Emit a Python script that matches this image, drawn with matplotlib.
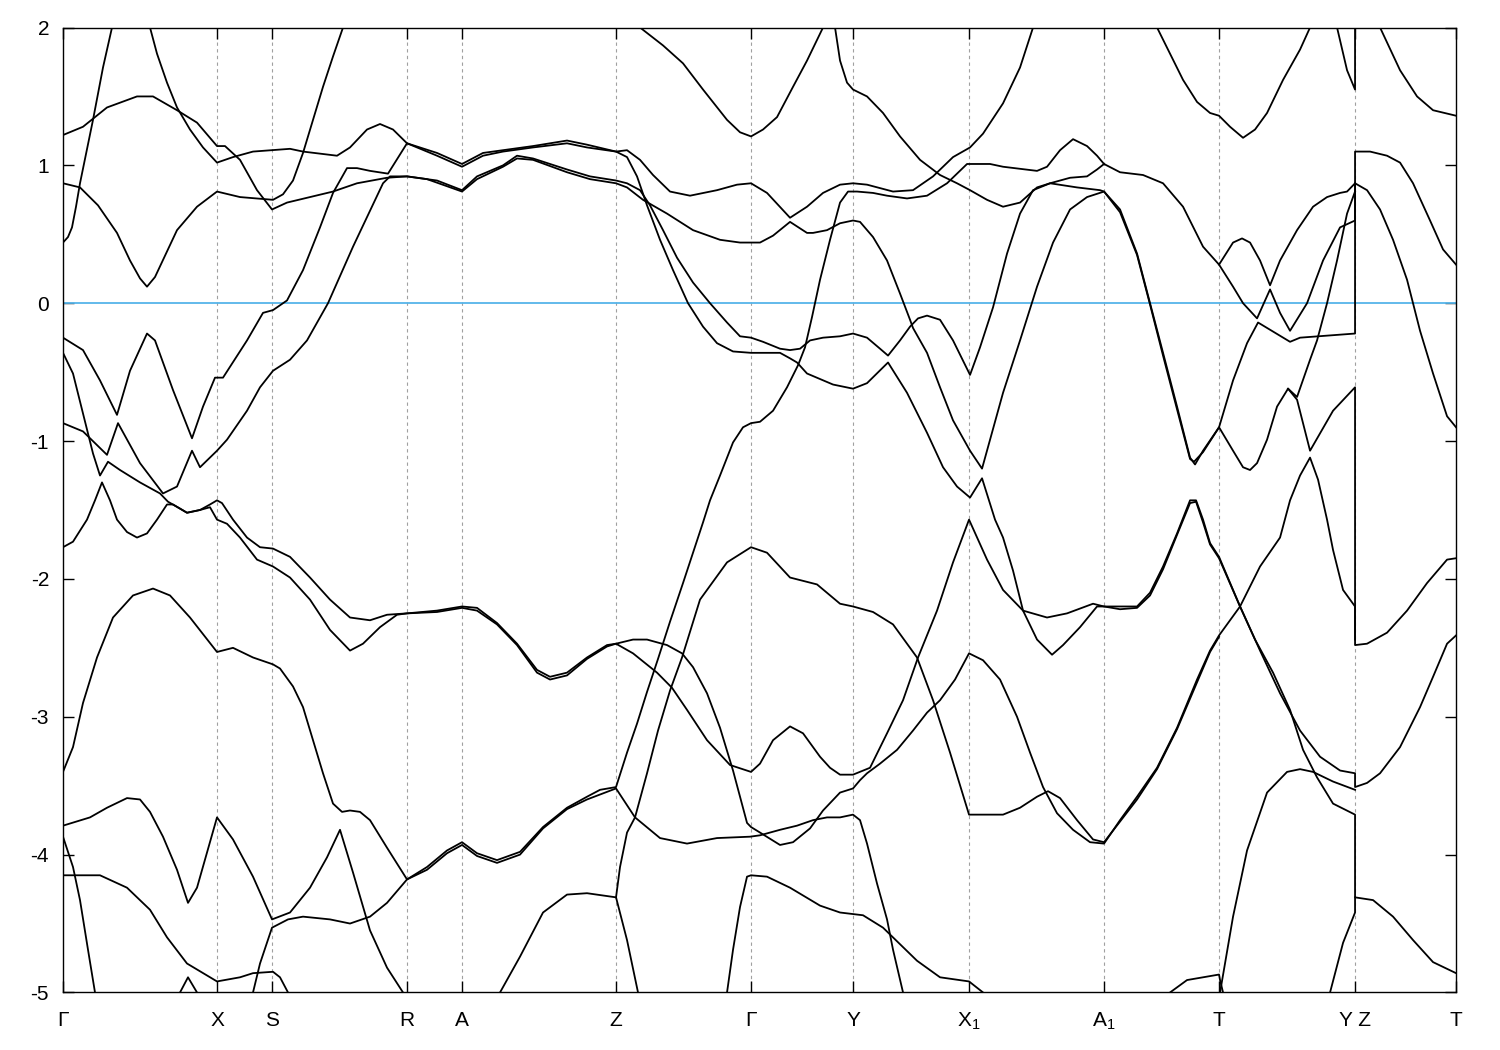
import matplotlib
matplotlib.use("Agg")
import matplotlib.pyplot as plt

plt.rcParams['font.family'] = ['Liberation Sans', 'DejaVu Sans']
plt.rcParams['mathtext.fontset'] = 'custom'
plt.rcParams['mathtext.rm'] = 'Liberation Sans'

# high symmetry points along the k-path
kpoints = [0.0, 1.54, 2.09, 3.44, 3.99, 5.53, 6.88, 7.90, 9.06, 10.41, 11.56, 12.92, 13.93]
klabels = ['Γ', 'X', 'S', 'R', 'A', 'Z', 'Γ', 'Y', r'$\mathrm{X}_1$', r'$\mathrm{A}_1$', 'T', 'Y Z', 'T']
yticks = [2, 1, 0, -1, -2, -3, -4, -5]

# band strands (k, E in eV)
band01 = [(0.00, 0.44), (0.05, 0.48), (0.09, 0.55), (0.13, 0.70), (0.17, 0.87), (0.30, 1.33), (0.40, 1.71),
          (0.49, 2.00), (0.52, 2.09)]
band02 = [(0.00, 0.87), (0.17, 0.84), (0.35, 0.71), (0.54, 0.51), (0.67, 0.31), (0.77, 0.18), (0.84, 0.12),
          (0.92, 0.19), (1.14, 0.53), (1.34, 0.70), (1.54, 0.81), (1.77, 0.77), (2.10, 0.75), (2.20, 0.79),
          (2.30, 0.89), (2.40, 1.09), (2.50, 1.33), (2.60, 1.57), (2.70, 1.79), (2.80, 2.00), (2.83, 2.09)]
band03 = [(0.00, 1.22), (0.20, 1.28), (0.44, 1.42), (0.74, 1.50), (0.90, 1.50), (1.14, 1.40), (1.34, 1.31),
          (1.54, 1.14), (1.62, 1.14), (1.77, 1.04), (1.94, 0.82), (2.09, 0.68), (2.24, 0.73), (2.70, 0.81),
          (2.94, 0.87), (3.24, 0.91), (3.44, 0.92), (3.64, 0.90), (3.99, 0.81), (4.14, 0.90), (4.40, 0.99),
          (4.54, 1.05), (4.70, 1.04), (5.04, 0.95), (5.27, 0.90), (5.53, 0.87), (5.64, 0.84), (5.80, 0.75),
          (6.04, 0.65), (6.30, 0.53), (6.57, 0.46), (6.77, 0.44), (6.88, 0.44), (6.97, 0.44), (7.10, 0.49),
          (7.27, 0.59), (7.44, 0.51), (7.50, 0.51), (7.64, 0.53), (7.77, 0.58), (7.90, 0.60), (7.97, 0.59),
          (8.10, 0.48), (8.24, 0.31), (8.37, 0.07), (8.47, -0.12), (8.50, -0.18), (8.64, -0.36), (8.77, -0.61),
          (8.90, -0.85), (9.07, -1.07), (9.19, -1.20), (9.40, -0.65), (9.57, -0.27), (9.74, 0.12), (9.90, 0.44),
          (10.07, 0.68), (10.24, 0.77), (10.41, 0.81), (10.57, 0.68), (10.74, 0.36), (10.87, 0.00),
          (11.00, -0.36), (11.14, -0.75), (11.27, -1.12), (11.32, -1.17), (11.40, -1.07), (11.56, -0.90),
          (11.70, -1.07), (11.80, -1.19), (11.87, -1.21), (11.94, -1.16), (12.04, -0.99), (12.14, -0.75),
          (12.25, -0.62), (12.34, -0.70), (12.47, -1.07), (12.70, -0.78), (12.92, -0.61), (12.92, -2.48),
          (13.04, -2.47), (13.24, -2.39), (13.44, -2.23), (13.64, -2.03), (13.84, -1.86), (13.93, -1.85)]
band04 = [(0.84, 2.09), (0.87, 2.00), (0.94, 1.81), (1.04, 1.60), (1.14, 1.42), (1.27, 1.26), (1.40, 1.13),
          (1.54, 1.02), (1.70, 1.06), (1.90, 1.10), (2.27, 1.12), (2.40, 1.10), (2.74, 1.07), (2.87, 1.13),
          (3.04, 1.26), (3.17, 1.30), (3.30, 1.26), (3.44, 1.16), (3.74, 1.09), (3.99, 1.01), (4.20, 1.09),
          (4.40, 1.11), (4.70, 1.14), (5.04, 1.18), (5.24, 1.15), (5.53, 1.10), (5.64, 1.11), (5.77, 1.04),
          (5.90, 0.93), (6.07, 0.81), (6.27, 0.78), (6.54, 0.82), (6.74, 0.86), (6.88, 0.87), (7.04, 0.80),
          (7.27, 0.62), (7.44, 0.70), (7.60, 0.80), (7.77, 0.86), (7.90, 0.87), (8.04, 0.86), (8.30, 0.81),
          (8.50, 0.82), (8.70, 0.92), (8.90, 1.06), (9.07, 1.13), (9.20, 1.23), (9.40, 1.45), (9.57, 1.71),
          (9.70, 2.00), (9.74, 2.09)]
band05 = [(0.00, -0.25), (0.20, -0.34), (0.37, -0.56), (0.54, -0.81), (0.67, -0.49), (0.84, -0.22),
          (0.92, -0.27), (1.10, -0.63), (1.29, -0.98), (1.40, -0.75), (1.52, -0.54), (1.60, -0.54),
          (1.84, -0.27), (2.00, -0.07), (2.10, -0.05), (2.24, 0.02), (2.40, 0.24), (2.57, 0.55), (2.70, 0.80),
          (2.84, 0.98), (2.94, 0.98), (3.07, 0.96), (3.25, 0.94), (3.44, 1.16), (3.74, 1.07), (3.99, 0.99),
          (4.20, 1.07), (4.40, 1.10), (4.70, 1.13), (5.04, 1.16), (5.24, 1.13), (5.53, 1.10), (5.64, 1.06),
          (5.74, 0.92), (5.84, 0.71), (5.97, 0.46), (6.10, 0.24), (6.25, 0.00), (6.40, -0.17), (6.54, -0.29),
          (6.70, -0.35), (6.88, -0.36), (7.17, -0.36), (7.27, -0.40), (7.34, -0.43), (7.44, -0.51),
          (7.70, -0.59), (7.90, -0.62), (8.04, -0.58), (8.25, -0.43), (8.44, -0.65), (8.64, -0.94),
          (8.80, -1.19), (8.94, -1.33), (9.07, -1.41), (9.19, -1.27), (9.32, -1.57), (9.40, -1.70),
          (9.50, -1.94), (9.60, -2.23), (9.74, -2.44), (9.89, -2.55), (10.00, -2.48), (10.17, -2.35),
          (10.34, -2.20), (10.41, -2.20), (10.57, -2.20), (10.74, -2.20), (10.87, -2.10), (11.00, -1.91),
          (11.14, -1.67), (11.27, -1.43), (11.33, -1.43), (11.40, -1.57), (11.47, -1.74), (11.56, -1.84),
          (11.77, -2.20), (11.97, -2.52), (12.17, -2.83), (12.37, -3.10), (12.57, -3.29), (12.77, -3.39),
          (12.92, -3.41), (12.92, -3.51), (13.04, -3.48), (13.17, -3.41), (13.37, -3.22), (13.57, -2.93),
          (13.70, -2.71), (13.84, -2.47), (13.93, -2.41)]
band06 = [(0.00, -0.87), (0.20, -0.93), (0.44, -1.10), (0.55, -0.87), (0.77, -1.16), (1.00, -1.38),
          (1.14, -1.33), (1.29, -1.07), (1.37, -1.19), (1.54, -1.07), (1.64, -0.99), (1.84, -0.78),
          (1.97, -0.61), (2.10, -0.49), (2.27, -0.41), (2.44, -0.27), (2.65, 0.00), (2.90, 0.41), (3.20, 0.87),
          (3.27, 0.92), (3.44, 0.92), (3.74, 0.89), (3.99, 0.82), (4.14, 0.92), (4.40, 1.00), (4.54, 1.07),
          (4.70, 1.05), (5.04, 0.97), (5.27, 0.92), (5.53, 0.89), (5.64, 0.87), (5.77, 0.82), (5.87, 0.71),
          (6.00, 0.53), (6.14, 0.33), (6.30, 0.15), (6.47, 0.00), (6.64, -0.14), (6.77, -0.24), (6.88, -0.25),
          (7.00, -0.28), (7.17, -0.33), (7.27, -0.34), (7.37, -0.33), (7.47, -0.27), (7.60, -0.25),
          (7.77, -0.24), (7.90, -0.22), (8.04, -0.25), (8.17, -0.33), (8.25, -0.38), (8.37, -0.27),
          (8.47, -0.17), (8.55, -0.11), (8.64, -0.09), (8.77, -0.12), (8.90, -0.27), (9.07, -0.52),
          (9.17, -0.32), (9.30, -0.03), (9.44, 0.36), (9.57, 0.65), (9.70, 0.82), (9.87, 0.87), (10.07, 0.91),
          (10.24, 0.92), (10.34, 0.97), (10.41, 1.01), (10.57, 0.95), (10.80, 0.93), (11.00, 0.87),
          (11.20, 0.70), (11.40, 0.41), (11.56, 0.28), (11.70, 0.12), (11.80, 0.00), (11.94, -0.11),
          (12.07, 0.10), (12.17, -0.07), (12.27, -0.20), (12.44, 0.00), (12.60, 0.31), (12.77, 0.55),
          (12.92, 0.60), (12.92, 0.87), (13.04, 0.82), (13.17, 0.68), (13.30, 0.46), (13.44, 0.17),
          (13.57, -0.20), (13.70, -0.51), (13.84, -0.82), (13.93, -0.90)]
band07 = [(1.90, -5.00), (1.97, -4.79), (2.09, -4.53), (2.25, -4.47), (2.40, -4.45), (2.67, -4.47),
          (2.87, -4.50), (3.07, -4.45), (3.24, -4.35), (3.44, -4.18), (3.64, -4.09), (3.84, -3.97),
          (3.99, -3.91), (4.14, -3.99), (4.34, -4.04), (4.57, -3.98), (4.80, -3.80), (5.04, -3.66),
          (5.24, -3.58), (5.37, -3.53), (5.53, -3.51), (5.64, -3.26), (5.74, -3.05), (5.84, -2.82),
          (5.95, -2.58), (6.07, -2.31), (6.20, -2.03), (6.30, -1.81), (6.40, -1.59), (6.47, -1.43),
          (6.57, -1.25), (6.70, -1.01), (6.80, -0.90), (6.88, -0.87), (6.97, -0.86), (7.10, -0.78),
          (7.24, -0.61), (7.35, -0.45), (7.42, -0.32), (7.49, -0.10), (7.57, 0.17), (7.67, 0.46), (7.77, 0.73),
          (7.85, 0.81), (7.94, 0.81), (8.10, 0.80), (8.24, 0.78), (8.44, 0.76), (8.64, 0.78), (8.84, 0.87),
          (9.04, 1.01), (9.27, 1.01), (9.40, 0.99), (9.74, 0.96), (9.84, 0.99), (9.97, 1.11), (10.10, 1.19),
          (10.24, 1.14), (10.34, 1.07), (10.41, 1.01)]
band08 = [(0.00, -3.40), (0.10, -3.22), (0.20, -2.90), (0.34, -2.57), (0.50, -2.28), (0.70, -2.12),
          (0.90, -2.07), (1.07, -2.12), (1.27, -2.28), (1.54, -2.53), (1.70, -2.50), (1.90, -2.57),
          (2.10, -2.62), (2.17, -2.65), (2.30, -2.78), (2.40, -2.93), (2.50, -3.17), (2.60, -3.41),
          (2.70, -3.63), (2.79, -3.69), (2.87, -3.68), (2.97, -3.69), (3.07, -3.75), (3.24, -3.95),
          (3.44, -4.18), (3.64, -4.11), (3.84, -3.99), (3.99, -3.93), (4.14, -4.01), (4.34, -4.06),
          (4.57, -4.00), (4.80, -3.81), (5.04, -3.67), (5.24, -3.60), (5.53, -3.52), (5.72, -3.73),
          (5.97, -3.88), (6.24, -3.92), (6.54, -3.88), (6.87, -3.87), (6.97, -3.86), (7.17, -3.82),
          (7.34, -3.79), (7.50, -3.75), (7.64, -3.73), (7.77, -3.73), (7.90, -3.71), (7.97, -3.75),
          (8.04, -3.92), (8.14, -4.21), (8.24, -4.47), (8.30, -4.69), (8.40, -5.00)]
band09 = [(0.00, -1.77), (0.10, -1.73), (0.24, -1.57), (0.32, -1.43), (0.39, -1.30), (0.47, -1.43),
          (0.54, -1.57), (0.64, -1.66), (0.74, -1.70), (0.84, -1.67), (0.94, -1.57), (1.04, -1.46),
          (1.10, -1.46), (1.24, -1.52), (1.37, -1.50), (1.47, -1.46), (1.54, -1.43), (1.59, -1.45),
          (1.70, -1.57), (1.84, -1.70), (1.97, -1.77), (2.10, -1.78), (2.27, -1.84), (2.47, -1.99),
          (2.67, -2.15), (2.87, -2.28), (3.07, -2.30), (3.24, -2.26), (3.44, -2.25), (3.74, -2.23),
          (3.99, -2.20), (4.14, -2.21), (4.34, -2.32), (4.54, -2.47), (4.74, -2.66), (4.87, -2.71),
          (5.04, -2.68), (5.24, -2.57), (5.44, -2.48), (5.53, -2.47), (5.70, -2.44), (5.84, -2.44),
          (6.04, -2.48), (6.19, -2.54), (6.30, -2.64), (6.44, -2.83), (6.57, -3.08), (6.70, -3.39),
          (6.84, -3.77), (6.88, -3.80), (6.97, -3.84), (7.17, -3.93), (7.30, -3.91), (7.47, -3.81),
          (7.60, -3.68), (7.77, -3.55), (7.90, -3.52), (7.97, -3.46), (8.04, -3.41), (8.17, -3.34),
          (8.34, -3.24), (8.50, -3.10), (8.64, -2.97), (8.77, -2.88), (8.92, -2.73), (9.06, -2.54),
          (9.20, -2.59), (9.37, -2.73), (9.54, -3.00), (9.67, -3.26), (9.80, -3.51), (9.94, -3.70),
          (10.10, -3.82), (10.27, -3.91), (10.41, -3.92), (10.57, -3.75), (10.74, -3.58), (10.94, -3.37),
          (11.14, -3.08), (11.34, -2.73), (11.47, -2.52), (11.56, -2.41), (11.77, -2.20), (11.97, -1.91),
          (12.17, -1.70), (12.27, -1.43), (12.37, -1.25), (12.47, -1.12), (12.55, -1.28), (12.64, -1.57),
          (12.70, -1.79), (12.80, -2.08), (12.92, -2.20), (12.92, -2.44)]
band10 = [(0.00, -0.36), (0.10, -0.51), (0.20, -0.80), (0.30, -1.09), (0.37, -1.25), (0.45, -1.15),
          (0.57, -1.21), (0.77, -1.30), (0.97, -1.38), (1.05, -1.44), (1.17, -1.49), (1.24, -1.52),
          (1.37, -1.50), (1.47, -1.48), (1.54, -1.57), (1.64, -1.60), (1.77, -1.70), (1.94, -1.86),
          (2.10, -1.91), (2.27, -1.99), (2.47, -2.15), (2.67, -2.37), (2.87, -2.52), (3.00, -2.47),
          (3.17, -2.35), (3.34, -2.26), (3.44, -2.25), (3.74, -2.24), (3.99, -2.21), (4.14, -2.23),
          (4.34, -2.33), (4.54, -2.48), (4.74, -2.68), (4.87, -2.73), (5.04, -2.70), (5.24, -2.58),
          (5.44, -2.49), (5.53, -2.47), (5.70, -2.54), (5.94, -2.68), (6.09, -2.79), (6.24, -2.95),
          (6.44, -3.17), (6.67, -3.35), (6.88, -3.40), (6.97, -3.34), (7.10, -3.17), (7.27, -3.07),
          (7.40, -3.12), (7.57, -3.29), (7.67, -3.37), (7.77, -3.42), (7.90, -3.42), (8.07, -3.37),
          (8.24, -3.12), (8.40, -2.88), (8.55, -2.57), (8.74, -2.23), (8.90, -1.88), (9.06, -1.57),
          (9.24, -1.86), (9.40, -2.08), (9.60, -2.23), (9.84, -2.28), (10.04, -2.25), (10.30, -2.18),
          (10.41, -2.20), (10.57, -2.22), (10.74, -2.21), (10.87, -2.12), (11.00, -1.93), (11.14, -1.68),
          (11.27, -1.45), (11.33, -1.44), (11.40, -1.59), (11.47, -1.75), (11.56, -1.85), (11.77, -2.20),
          (11.92, -2.44), (12.10, -2.68), (12.27, -2.95), (12.40, -3.24), (12.54, -3.44), (12.70, -3.63),
          (12.92, -3.71), (12.92, -4.31), (13.10, -4.33), (13.30, -4.45), (13.50, -4.62), (13.70, -4.78),
          (13.93, -4.86)]
band11 = [(0.00, -3.79), (0.27, -3.73), (0.44, -3.66), (0.64, -3.59), (0.77, -3.60), (0.87, -3.69),
          (1.00, -3.87), (1.14, -4.11), (1.25, -4.35), (1.34, -4.24), (1.54, -3.73), (1.70, -3.89),
          (1.90, -4.16), (2.09, -4.47), (2.27, -4.42), (2.47, -4.24), (2.64, -4.02), (2.77, -3.82),
          (2.90, -4.13), (3.07, -4.55), (3.24, -4.82), (3.40, -5.00)]
band12 = [(0.00, -3.87), (0.10, -4.09), (0.17, -4.33), (0.25, -4.69), (0.32, -5.00)]
band13 = [(0.00, -4.15), (0.37, -4.15), (0.64, -4.24), (0.87, -4.40), (1.04, -4.60), (1.24, -4.79),
          (1.54, -4.92), (1.77, -4.89), (1.90, -4.86), (2.10, -4.85), (2.17, -4.89), (2.25, -5.00)]
band14 = [(1.17, -5.00), (1.25, -4.89), (1.34, -5.00)]
band15 = [(4.37, -5.00), (4.57, -4.74), (4.80, -4.42), (5.04, -4.29), (5.24, -4.28), (5.53, -4.31),
          (5.64, -4.62), (5.75, -5.00)]
band16 = [(5.53, -4.31), (5.57, -4.09), (5.64, -3.84), (5.72, -3.73), (5.84, -3.41), (5.95, -3.10),
          (6.07, -2.81), (6.19, -2.57), (6.37, -2.15), (6.64, -1.88), (6.88, -1.77), (7.04, -1.81),
          (7.27, -1.99), (7.54, -2.04), (7.77, -2.18), (7.90, -2.20), (8.10, -2.24), (8.30, -2.33),
          (8.54, -2.57), (8.70, -2.88), (8.87, -3.26), (9.06, -3.71), (9.27, -3.71), (9.40, -3.71),
          (9.57, -3.66), (9.74, -3.58), (9.85, -3.54), (9.97, -3.59), (10.14, -3.75), (10.30, -3.89),
          (10.41, -3.91), (10.57, -3.76), (10.74, -3.60), (10.94, -3.38), (11.14, -3.09), (11.34, -2.75),
          (11.47, -2.53), (11.56, -2.42)]
band17 = [(6.64, -5.00), (6.70, -4.69), (6.77, -4.38), (6.84, -4.16), (6.88, -4.15), (7.04, -4.16),
          (7.27, -4.24), (7.57, -4.37), (7.77, -4.42), (8.00, -4.44), (8.20, -4.53), (8.54, -4.77),
          (8.77, -4.89), (9.06, -4.92), (9.20, -5.00)]
band18 = [(5.74, 2.09), (5.77, 2.00), (6.00, 1.87), (6.20, 1.74), (6.40, 1.55), (6.64, 1.33), (6.77, 1.24),
          (6.88, 1.21), (7.00, 1.26), (7.14, 1.35), (7.30, 1.57), (7.44, 1.76), (7.60, 2.00), (7.63, 2.09)]
band19 = [(7.70, 2.09), (7.72, 2.00), (7.77, 1.76), (7.84, 1.60), (7.90, 1.55), (8.04, 1.50), (8.20, 1.38),
          (8.37, 1.21), (8.57, 1.04), (8.77, 0.93), (8.94, 0.87), (9.07, 0.82), (9.24, 0.75), (9.40, 0.70),
          (9.57, 0.73), (9.74, 0.84), (9.87, 0.87), (10.14, 0.84), (10.37, 0.82), (10.41, 0.81),
          (10.57, 0.66), (10.74, 0.35), (10.87, -0.01), (11.00, -0.38), (11.14, -0.77), (11.27, -1.13),
          (11.31, -1.15), (11.40, -1.08), (11.56, -0.90), (11.70, -0.56), (11.84, -0.29), (11.95, -0.14),
          (12.27, -0.28), (12.37, -0.25), (12.92, -0.22), (12.92, 1.10), (13.07, 1.10), (13.24, 1.07),
          (13.37, 1.02), (13.50, 0.87), (13.67, 0.60), (13.80, 0.39), (13.93, 0.28)]
band20 = [(10.92, 2.09), (10.94, 2.00), (11.07, 1.81), (11.20, 1.62), (11.34, 1.46), (11.47, 1.38),
          (11.56, 1.36), (11.67, 1.28), (11.80, 1.20), (11.92, 1.26), (12.04, 1.38), (12.20, 1.62),
          (12.37, 1.84), (12.47, 2.00), (12.50, 2.09)]
band21 = [(12.72, 2.09), (12.74, 2.00), (12.84, 1.69), (12.92, 1.55), (12.92, 2.35), (13.17, 2.00),
          (13.37, 1.69), (13.54, 1.50), (13.70, 1.40), (13.93, 1.36)]
band22 = [(11.56, 0.28), (11.70, 0.44), (11.79, 0.47), (11.87, 0.44), (11.97, 0.31), (12.07, 0.13),
          (12.17, 0.31), (12.34, 0.53), (12.50, 0.70), (12.64, 0.77), (12.77, 0.80), (12.84, 0.81), (12.92, 0.87)]
band23 = [(12.25, -0.62), (12.34, -0.68), (12.47, -0.41), (12.54, -0.27), (12.64, 0.00), (12.74, 0.31),
          (12.84, 0.65), (12.92, 0.81)]
band24 = [(11.07, -5.00), (11.24, -4.91), (11.40, -4.89), (11.56, -4.87), (11.57, -4.91), (11.60, -5.00)]
band25 = [(11.57, -5.00), (11.70, -4.45), (11.84, -3.97), (12.04, -3.55), (12.24, -3.40), (12.37, -3.38),
          (12.50, -3.40), (12.70, -3.47), (12.92, -3.53)]
band26 = [(12.67, -5.00), (12.80, -4.64), (12.92, -4.42), (12.92, -4.31)]

bands = [band01, band02, band03, band04, band05, band06, band07, band08, band09, band10, band11, band12, band13,
         band14, band15, band16, band17, band18, band19, band20, band21, band22, band23, band24, band25, band26]

fig = plt.figure(figsize=(15, 10.5), dpi=100)
ax = fig.add_axes([0.042, 0.0548, 0.9287, 0.919])

for k in kpoints[1:-1]:
    ax.axvline(k, color='#a0a0a0', lw=0.8, ls=(0, (3, 3)), zorder=1)

ax.axhline(0, color='#56b4e9', lw=1.3, zorder=2)

for b in bands:
    ks = [p[0] for p in b]
    es = [p[1] for p in b]
    ax.plot(ks, es, color='black', lw=1.3, zorder=3, solid_joinstyle='round')

ax.set_xlim(kpoints[0], kpoints[-1])
ax.set_ylim(-5, 2)
ax.set_xticks(kpoints)
ax.set_xticklabels(klabels, fontsize=15)
ax.set_yticks(yticks)
ax.set_yticklabels([str(v) for v in yticks], fontsize=15)
ax.tick_params(direction='in', length=8, width=1, top=True, right=True, pad=10)
ax.tick_params(axis='x', pad=13)
for s in ax.spines.values():
    s.set_linewidth(1.0)

fig.savefig("out.png", dpi=100)
